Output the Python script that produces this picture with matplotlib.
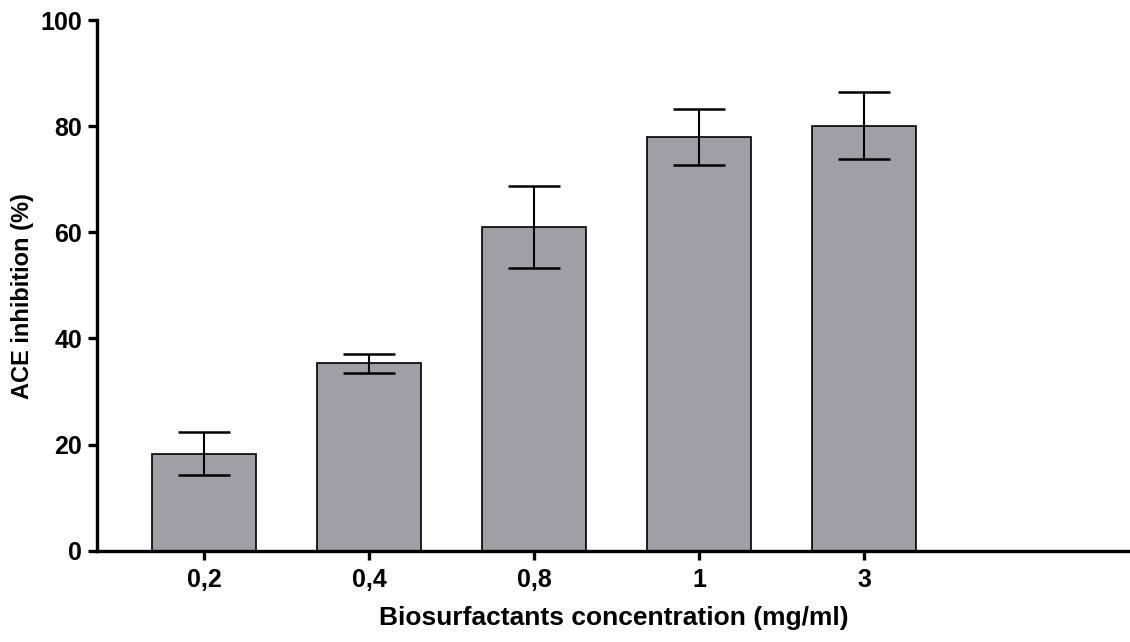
import numpy as np
import matplotlib
matplotlib.use("Agg")
import matplotlib.pyplot as plt

categories = ["0,2", "0,4", "0,8", "1", "3"]
inhibition = [18.3, 35.3, 61.0, 78.0, 80.1]
sd = [4.0, 1.85, 7.65, 5.3, 6.3]

plt.rcParams['font.family'] = ['Liberation Sans', 'DejaVu Sans']
plt.rcParams['font.weight'] = 'bold'

fig = plt.figure(figsize=(11.3, 6.42), dpi=100)
ax = fig.add_axes([0.0858, 0.1422, 0.9142, 0.8266])

x = np.arange(len(categories))
ax.bar(x, inhibition, width=0.63, color="#a09fa4", edgecolor="black",
       linewidth=1.2, zorder=2)
ax.errorbar(x, inhibition, yerr=sd, fmt="none", ecolor="black",
            elinewidth=1.5, capsize=19, capthick=1.8, zorder=3)

ax.set_xlim(-0.648, 5.61)
ax.set_ylim(0, 100)
ax.set_yticks([0, 20, 40, 60, 80, 100])
ax.set_xticks(x)
ax.set_xticklabels(categories)

for s in ["top", "right"]:
    ax.spines[s].set_visible(False)
for s in ["left", "bottom"]:
    ax.spines[s].set_linewidth(2.4)
ax.tick_params(axis="both", width=2.4, length=6.5, labelsize=18, pad=4)
ax.tick_params(axis="x", pad=6)
for lab in ax.get_xticklabels() + ax.get_yticklabels():
    lab.set_fontweight("bold")

ax.set_xlabel("Biosurfactants concentration (mg/ml)", fontsize=19,
              fontweight="bold", labelpad=10)
ax.set_ylabel("ACE inhibition (%)", fontsize=17, fontweight="bold",
              labelpad=5)
ax.yaxis.label.set_y(0.48)

fig.savefig("out.png", dpi=100)
